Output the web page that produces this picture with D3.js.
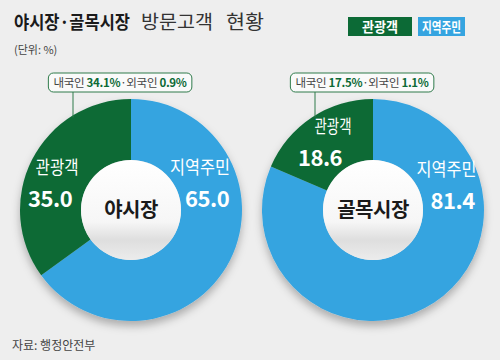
<!DOCTYPE html>
<html>
<head>
<meta charset="utf-8">
<script src="https://cdn.jsdelivr.net/npm/d3@7"></script>
<style>
  body { margin: 0; background: #eeeeee; }
  text { font-family: "Noto Sans CJK KR", "Noto Sans", sans-serif; }
</style>
</head>
<body>
<div id="chart"></div>
<script>
// data
const markets = ["야시장", "골목시장"];
const categories = ["지역주민", "관광객"];
const residents = [65.0, 81.4];
const tourists = [35.0, 18.6];
const domestic = [34.1, 17.5];
const foreign = [0.9, 1.1];

const colors = { "관광객": "#0c6a36", "지역주민": "#35a4e0" };

const width = 500, height = 360;
const outerR = 111, innerR = 50;

const svg = d3.select("#chart").append("svg")
  .attr("width", width).attr("height", height);

svg.append("rect").attr("width", width).attr("height", height).attr("fill", "#eeeeee");

const defs = svg.append("defs");
const shadow = defs.append("filter").attr("id", "shadow")
  .attr("x", "-20%").attr("y", "-20%").attr("width", "140%").attr("height", "150%");
shadow.append("feDropShadow").attr("dx", 0).attr("dy", 5).attr("stdDeviation", 4)
  .attr("flood-color", "#000").attr("flood-opacity", 0.28);

const holeGrad = defs.append("linearGradient").attr("id", "hole")
  .attr("x1", 0).attr("y1", 0).attr("x2", 0).attr("y2", 1);
holeGrad.append("stop").attr("offset", "0%").attr("stop-color", "#ffffff");
holeGrad.append("stop").attr("offset", "62%").attr("stop-color", "#f6f6f6");
holeGrad.append("stop").attr("offset", "80%").attr("stop-color", "#dedede");
holeGrad.append("stop").attr("offset", "100%").attr("stop-color", "#ececec");

// title
svg.append("text").attr("x", 14).attr("y", 29).attr("font-size", 18)
  .attr("font-weight", 700).attr("textLength", 116).attr("lengthAdjust", "spacingAndGlyphs")
  .attr("fill", "#1a1a1a").text("야시장·골목시장");
svg.append("text").attr("x", 141).attr("y", 29).attr("font-size", 19)
  .attr("textLength", 72).attr("lengthAdjust", "spacingAndGlyphs")
  .attr("fill", "#333").text("방문고객");
svg.append("text").attr("x", 226).attr("y", 29).attr("font-size", 19)
  .attr("textLength", 38).attr("lengthAdjust", "spacingAndGlyphs")
  .attr("fill", "#333").text("현황");

svg.append("text").attr("x", 14).attr("y", 54).attr("font-size", 11).attr("fill", "#444").text("(단위: %)");

// legend
const legend = [
  { name: "관광객", x: 348, w: 64, tw: 36 },
  { name: "지역주민", x: 418, w: 47, tw: 39 }
];
const lg = svg.append("g").selectAll("g").data(legend).join("g");
lg.append("rect").attr("x", d => d.x).attr("y", 17).attr("width", d => d.w).attr("height", 19)
  .attr("fill", d => colors[d.name]);
lg.append("text").attr("x", d => d.x + (d.w - d.tw) / 2).attr("y", 31.5)
  .attr("textLength", d => d.tw).attr("lengthAdjust", "spacingAndGlyphs")
  .attr("font-size", 14).attr("font-weight", 700).attr("fill", "#fff").text(d => d.name);

// donuts
const centers = d3.scalePoint().domain(markets).range([131, 373]);
const cy = 210;
const pie = d3.pie().sort(null).value(d => d.value);
const arc = d3.arc().innerRadius(innerR).outerRadius(outerR);

// label placement: angle (deg, clockwise from top), radius, value x-offset, name width
const labelPos = {
  "야시장": { "관광객": [-69.3, 79, -7, 43], "지역주민": [68, 74.5, 7, 60] },
  "골목시장": { "관광객": [-30, 80, -13, 37], "지역주민": [70.6, 78, 6, 60] }
};
const pointerAngle = -31.5 * Math.PI / 180;

markets.forEach((m, i) => {
  const cx = centers(m);
  const g = svg.append("g").attr("transform", `translate(${cx},${cy})`);
  const slices = pie([
    { name: categories[0], value: residents[i] },
    { name: categories[1], value: tourists[i] }
  ]);

  const ring = g.append("g").attr("filter", "url(#shadow)");
  ring.selectAll("path").data(slices).join("path")
    .attr("d", arc)
    .attr("fill", d => colors[d.data.name]);

  g.append("circle").attr("r", innerR).attr("fill", "url(#hole)");

  g.append("text").attr("y", 7).attr("text-anchor", "middle")
    .attr("font-size", 20).attr("font-weight", 700).attr("letter-spacing", -0.5)
    .attr("fill", "#1a1a1a").text(m);

  // slice labels
  slices.forEach(s => {
    const [deg, r, off, tw] = labelPos[m][s.data.name];
    const a = deg * Math.PI / 180;
    const lx = r * Math.sin(a), ly = -r * Math.cos(a);
    g.append("text").attr("x", lx - tw / 2).attr("y", ly - 8)
      .attr("textLength", tw).attr("lengthAdjust", "spacingAndGlyphs")
      .attr("font-size", 18).attr("fill", "#fff").text(s.data.name);
    g.append("text").attr("x", lx + off).attr("y", ly + 25)
      .attr("text-anchor", "middle").attr("font-size", 22).attr("font-weight", 700)
      .attr("letter-spacing", -0.5).attr("fill", "#fff")
      .text(d3.format(".1f")(s.value));
  });

  // callout box
  const px = outerR * Math.sin(pointerAngle), py = -outerR * Math.cos(pointerAngle);
  const boxY = 73 - cy, boxH = 19;
  const callout = g.append("g");
  const rect = callout.append("rect");
  const t = callout.append("text").attr("y", boxY + 14).attr("text-anchor", "middle")
    .attr("font-size", 11.5).attr("letter-spacing", -0.3).attr("fill", "#444");
  t.append("tspan").text("내국인 ");
  t.append("tspan").attr("font-weight", 700).attr("fill", "#0c6a36").text(domestic[i] + "%");
  t.append("tspan").text("·외국인 ");
  t.append("tspan").attr("font-weight", 700).attr("fill", "#0c6a36").text(foreign[i] + "%");
  t.attr("x", px + 58 - 11);
  const bb = t.node().getBBox();
  rect.attr("x", bb.x - 5).attr("y", boxY).attr("width", bb.width + 10).attr("height", boxH)
    .attr("rx", 5).attr("fill", "#fafafa").attr("stroke", "#2f7b4b").attr("stroke-width", 1);
  callout.insert("line", "rect").attr("x1", px).attr("x2", px)
    .attr("y1", boxY + boxH).attr("y2", py + 2)
    .attr("stroke", "#2f7b4b").attr("stroke-width", 1);
});

// source
svg.append("text").attr("x", 12).attr("y", 350).attr("font-size", 12).attr("fill", "#444")
  .text("자료: 행정안전부");
</script>
</body>
</html>
